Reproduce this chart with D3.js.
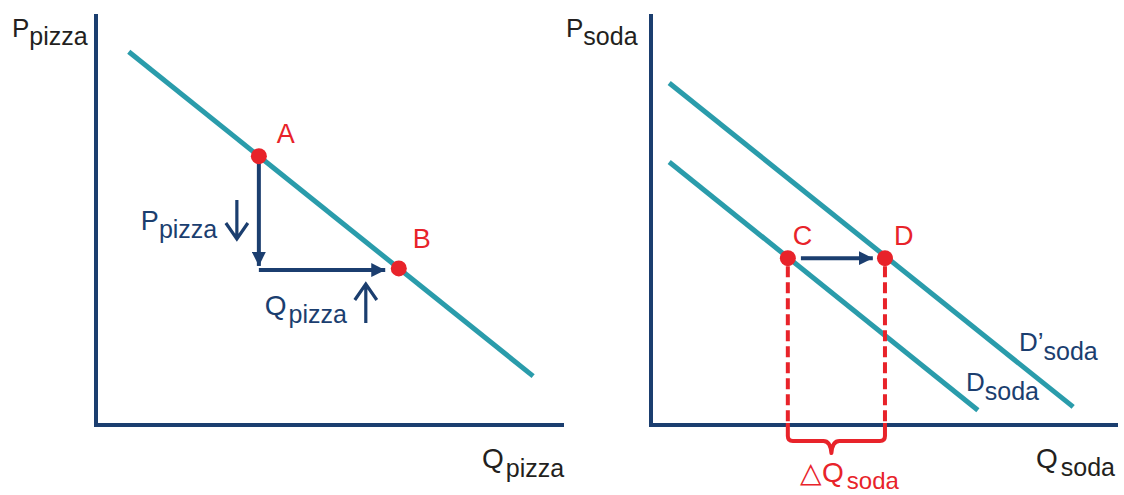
<!DOCTYPE html>
<html>
<head>
<meta charset="utf-8">
<script src="https://cdn.jsdelivr.net/npm/d3@7"></script>
<style>
    body { margin: 0; background: #fff; }
    svg { display: block; font-family: "Liberation Sans", Arial, Helvetica, sans-serif; }
</style>
</head>
<body>
<svg id="chart" width="1124" height="495"></svg>
<script>
const WIDTH = 1124;
const HEIGHT = 495;

const NAVY = "#1b3e6f";
const TEAL = "#2a9cab";
const RED = "#e8232a";
const INK = "#231f20";

// pizza market (left) - values in axis units 0..100
const pizzaDemand = [{q: 7.0, p: 90.8}, {q: 93.4, p: 11.9}];
const pizzaPoints = [{name: "A", q: 34.8, p: 65.4}, {name: "B", q: 64.7, p: 38.1}];
const pizzaMoves = [
    {q1: 34.8, p1: 65.4, q2: 34.8, p2: 38.7},
    {q1: 34.8, p1: 37.7, q2: 61.8, p2: 37.7}
];

// soda market (right)
const sodaDemand = [{q: 3.9, p: 64.0}, {q: 70.0, p: 3.6}];
const sodaDemandShift = [{q: 3.9, p: 83.2}, {q: 90.4, p: 4.4}];
const sodaPoints = [{name: "C", q: 29.3, p: 40.6}, {name: "D", q: 50.1, p: 40.6}];
const sodaMoves = [{q1: 32.1, p1: 40.6, q2: 47.5, p2: 40.6}];

const svg = d3.select("#chart");

const defs = svg.append("defs");
defs.append("marker")
    .attr("id", "head")
    .attr("markerUnits", "userSpaceOnUse")
    .attr("viewBox", "0 0 14 14")
    .attr("refX", 14).attr("refY", 7)
    .attr("markerWidth", 14).attr("markerHeight", 14)
    .attr("orient", "auto")
    .append("path")
    .attr("d", "M0,0 L14,7 L0,14 Z")
    .attr("fill", NAVY);

function makePanel(x0, x1) {
    const x = d3.scaleLinear().domain([0, 100]).range([x0, x1]);
    const y = d3.scaleLinear().domain([0, 100]).range([425, 14]);
    const g = svg.append("g");
    const line = d3.line().x(d => x(d[0])).y(d => y(d[1]));
    g.append("path")
        .attr("d", line([[0, 100], [0, 0], [100, 0]]))
        .attr("fill", "none")
        .attr("stroke", NAVY)
        .attr("stroke-width", 4)
        .attr("stroke-linejoin", "miter");
    return {x, y, g};
}

function demandLine(panel, pts) {
    panel.g.append("line")
        .attr("x1", panel.x(pts[0].q)).attr("y1", panel.y(pts[0].p))
        .attr("x2", panel.x(pts[1].q)).attr("y2", panel.y(pts[1].p))
        .attr("stroke", TEAL)
        .attr("stroke-width", 5);
}

function moves(panel, data) {
    panel.g.selectAll(null)
        .data(data)
        .join("line")
        .attr("x1", d => panel.x(d.q1)).attr("y1", d => panel.y(d.p1))
        .attr("x2", d => panel.x(d.q2)).attr("y2", d => panel.y(d.p2))
        .attr("stroke", NAVY)
        .attr("stroke-width", 4)
        .attr("marker-end", "url(#head)");
}

function subLabel(parent, x, y, main, sub, color, opts = {}) {
    const t = parent.append("text")
        .attr("x", x).attr("y", y)
        .attr("fill", color)
        .attr("font-size", opts.size || 26);
    t.append("tspan").text(main);
    t.append("tspan")
        .attr("dx", opts.dx || 0)
        .attr("dy", opts.dy || 8)
        .attr("font-size", opts.subSize || 25)
        .text(sub);
    return t;
}

function thinArrow(parent, x, yTop, yBot, dir) {
    const tip = dir === "down" ? yBot : yTop;
    const back = dir === "down" ? -16 : 16;
    parent.append("path")
        .attr("d", `M${x},${yTop} V${yBot} M${x - 11},${tip + back} L${x},${tip} L${x + 11},${tip + back}`)
        .attr("fill", "none")
        .attr("stroke", NAVY)
        .attr("stroke-width", 3.2)
        .attr("stroke-linejoin", "miter");
}

function dots(panel, data, offsets) {
    panel.g.selectAll(null)
        .data(data)
        .join("circle")
        .attr("cx", d => panel.x(d.q))
        .attr("cy", d => panel.y(d.p))
        .attr("r", 8)
        .attr("fill", RED);
    panel.g.selectAll(null)
        .data(data)
        .join("text")
        .attr("x", (d, i) => panel.x(d.q) + offsets[i][0])
        .attr("y", (d, i) => panel.y(d.p) + offsets[i][1])
        .attr("fill", RED)
        .attr("font-size", 27)
        .text(d => d.name);
}

// ---- left: pizza
const left = makePanel(96, 564);
demandLine(left, pizzaDemand);
moves(left, pizzaMoves);
dots(left, pizzaPoints, [[18, -13], [14, -20]]);

subLabel(svg, 12, 37, "P", "pizza", INK);
subLabel(svg, 482, 468, "Q", "pizza", INK, {size: 28, dx: 2, dy: 9});

const pA = pizzaPoints[0];
const pxA = left.x(pA.q);
subLabel(svg, pxA - 118, 230, "P", "pizza", NAVY, {size: 27});
thinArrow(svg, pxA - 22, 200, 239, "down");
const pxB = left.x(pizzaPoints[1].q);
subLabel(svg, pxB - 134, 315, "Q", "pizza", NAVY, {size: 28, dx: 2});
thinArrow(svg, pxB - 33, 284, 323, "up");

// ---- right: soda
const right = makePanel(651, 1118);
demandLine(right, sodaDemand);
demandLine(right, sodaDemandShift);

// dashed drops and brace
const yAxis0 = right.y(0);
const braceY = yAxis0 + 16;
right.g.selectAll(null)
    .data(sodaPoints)
    .join("line")
    .attr("x1", d => right.x(d.q)).attr("x2", d => right.x(d.q))
    .attr("y1", d => right.y(d.p) + 8)
    .attr("y2", yAxis0 + 2)
    .attr("stroke", RED)
    .attr("stroke-width", 4)
    .attr("stroke-dasharray", "11,5");

const bx1 = right.x(sodaPoints[0].q);
const bx2 = right.x(sodaPoints[1].q);
const bm = (bx1 + bx2) / 2 - 5;
right.g.append("path")
    .attr("d", `M${bx1},${yAxis0 - 2} V${braceY - 5} Q${bx1},${braceY} ${bx1 + 5},${braceY}
        H${bm - 8} Q${bm - 1},${braceY} ${bm},${braceY + 12} Q${bm + 1},${braceY} ${bm + 8},${braceY}
        H${bx2 - 5} Q${bx2},${braceY} ${bx2},${braceY - 5} V${yAxis0 - 2}`)
    .attr("fill", "none")
    .attr("stroke", RED)
    .attr("stroke-width", 4)
    .attr("stroke-linejoin", "round");

moves(right, sodaMoves);
dots(right, sodaPoints, [[5, -13], [9, -13]]);

subLabel(svg, 566, 37, "P", "soda", INK);
subLabel(svg, 1036, 468, "Q", "soda", INK, {size: 28, dx: 3, dy: 8});
subLabel(svg, 800, 482, "\u25B3Q", "soda", RED, {size: 28, dx: 3, dy: 7, subSize: 24});
subLabel(svg, 966, 391, "D", "soda", NAVY, {dy: 9});
subLabel(svg, 1019, 351, "D\u2019", "soda", NAVY, {dy: 9});
</script>
</body>
</html>
